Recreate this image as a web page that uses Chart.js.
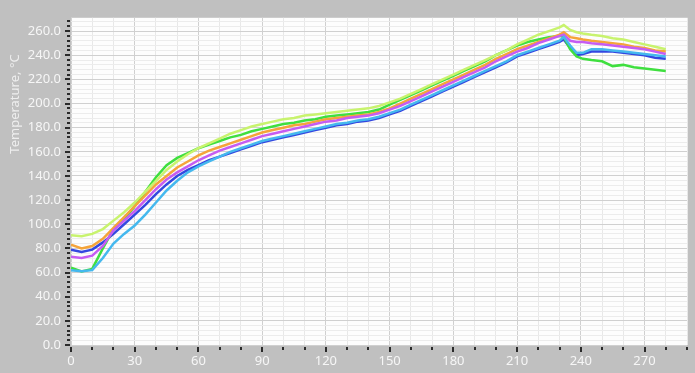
<!DOCTYPE html>
<html><head><meta charset="utf-8">
<script src="https://cdn.jsdelivr.net/npm/chart.js@4/dist/chart.umd.min.js"></script>
<style>html,body{margin:0;padding:0;background:#c0c0c0;}#wrap{width:695px;height:373px;}</style>
</head><body><div id="wrap"><canvas id="c" width="695" height="373"></canvas></div>
<script>
const times = [0,5,10,15,20,25,30,35,40,45,50,55,60,65,70,75,80,85,90,95,100,105,110,115,120,125,130,135,140,145,150,155,160,165,170,175,180,185,190,195,200,205,210,215,220,225,230,232,235,238,241,245,250,255,260,265,270,275,280];
const yellowGreen = [91,90,92,96,103,110,118,127,136,145,152,158,163,167,171,175,178,181,183,185,187,188,190,191,192,193,194,195,196,198,201,204,208,212,216,220,224,228,232,236,240,244,249,253,257,260,263,265,261,259,258,257,256,254,253,251,249,247,245];
const green = [64,61,63,80,96,104,115,127,139,149,155,159,163,166,169,172,174,177,179,181,183,184,186,187,189,190,191,192,193,195,199,203,207,211,215,219,223,227,231,235,240,244,248,251,253,255,256,255,245,239,237,236,235,231,232,230,229,228,227];
const orange = [83,80,82,88,97,106,115,124,133,140,147,152,157,161,164,167,170,173,176,178,180,182,183,185,187,188,189,190,191,193,196,200,204,208,212,216,220,224,228,232,237,241,245,248,251,254,257,259,255,254,253,252,251,250,249,247,246,244,243];
const magenta = [73,72,74,82,95,103,111,120,129,137,143,148,153,157,161,164,167,170,173,175,177,179,181,183,185,186,188,189,190,192,195,198,202,206,210,214,218,222,226,230,235,239,243,246,250,253,256,257,252,251,251,250,249,248,247,246,245,243,241];
const cyan = [62,61,62,72,84,92,99,108,118,128,136,143,148,152,156,160,163,166,169,171,173,175,177,179,181,183,184,186,187,189,192,195,199,203,207,211,215,219,223,227,231,235,240,243,246,249,252,255,248,242,242,245,245,244,243,242,241,240,239];
const blue = [79,77,79,85,92,100,108,116,125,133,140,145,149,153,156,159,162,165,168,170,172,174,176,178,180,182,183,185,186,188,191,194,198,202,206,210,214,218,222,226,230,234,239,242,245,248,251,253,246,240,241,243,243,243,242,241,240,238,237];
const xTickLabels = [0,30,60,90,120,150,180,210,240,270];
const yTickLabels = [0,20,40,60,80,100,120,140,160,180,200,220,240,260];
const yTitle = 'Temperature, °C';

const seriesDefs = [
  {data: cyan, color:'#45b8ee'},
  {data: magenta, color:'#c65cf2'},
  {data: orange, color:'#f5a43a'},
  {data: yellowGreen, color:'#c8f36e'},
  {data: green, color:'#3fdf3f'},
  {data: blue, color:'#3347e0'}
];

const FONT = "'Noto Sans', 'DejaVu Sans', sans-serif";

const plotBg = {
  id:'plotBg',
  beforeDraw(chart){
    const {ctx, chartArea:a} = chart;
    ctx.save();
    ctx.fillStyle = '#c0c0c0';
    ctx.fillRect(0,0,chart.width,chart.height);
    ctx.fillStyle = '#fdfdfd';
    ctx.fillRect(a.left,a.top,a.right-a.left,a.bottom-a.top);
    ctx.restore();
  },
  afterDraw(chart){
    const {ctx, chartArea:a, scales} = chart;
    ctx.save();
    ctx.fillStyle = '#2a2a2a';
    scales.y.ticks.forEach(t=>{
      const y = Math.round(scales.y.getPixelForValue(t.value));
      const major = t.value % 20 === 0;
      const len = major ? 5 : 3;
      ctx.fillRect(a.left-1-len, y-1, len, 2);
    });
    scales.x.ticks.forEach(t=>{
      const x = Math.round(scales.x.getPixelForValue(t.value));
      const major = t.value % 30 === 0;
      const len = major ? 5 : 3;
      ctx.fillRect(x-1, a.bottom+2, 2, len);
    });
    ctx.translate(15, 104);
    ctx.rotate(-Math.PI/2);
    ctx.fillStyle = '#eeeeee';
    ctx.font = '13px ' + FONT;
    ctx.textAlign = 'center';
    ctx.textBaseline = 'middle';
    ctx.fillText(yTitle, 0, 0);
    ctx.restore();
  }
};

new Chart(document.getElementById('c'), {
  type:'line',
  data:{
    datasets: seriesDefs.map(s=>({
      data: times.map((t,i)=>({x:t, y:s.data[i]})),
      borderColor: s.color,
      borderWidth: 2.5,
      pointRadius: 0,
      fill:false,
      tension:0
    }))
  },
  options:{
    responsive:false,
    animation:false,
    layout:{padding:{top:6,right:1,left:0,bottom:0}},
    plugins:{legend:{display:false}, tooltip:{enabled:false}},
    scales:{
      x:{
        type:'linear', min:0, max:290,
        afterFit(s){ s.height = 28; },
        border:{display:false},
        grid:{drawTicks:false, color:c=> (c.tick && c.tick.value % 30 === 0) ? '#d0d0d0' : '#e8e8e8', lineWidth:1},
        ticks:{stepSize:10, includeBounds:false, autoSkip:false, maxRotation:0, padding:8, color:'#f6f6f6',
          font:{family:FONT, size:13},
          callback:v=> xTickLabels.includes(v) ? String(v) : ''}
      },
      y:{
        min:0, max:271,
        afterFit(s){ s.width = 71; },
        border:{display:false},
        grid:{drawTicks:false, color:c=> (c.tick && c.tick.value % 20 === 0) ? '#d0d0d0' : '#ececec', lineWidth:1},
        ticks:{stepSize:4, includeBounds:false, autoSkip:false, padding:10, color:'#f6f6f6',
          font:{family:FONT, size:13},
          callback:v=> yTickLabels.includes(v) ? v.toFixed(1) : ''}
      }
    }
  },
  plugins:[plotBg]
});
</script></body></html>
